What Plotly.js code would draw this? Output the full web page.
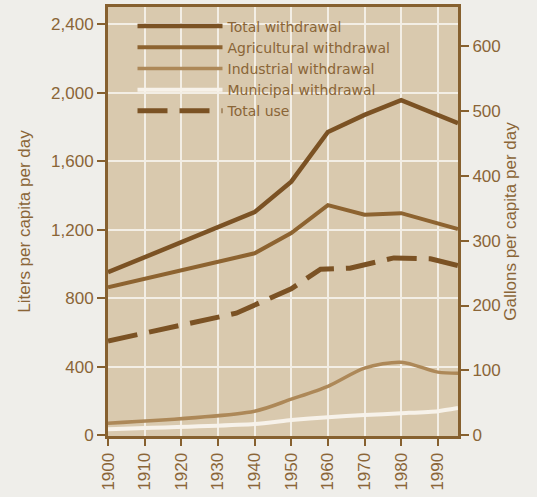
<!DOCTYPE html>
<html>
<head>
<meta charset="utf-8">
<script src="https://cdn.plot.ly/plotly-3.0.1.min.js"></script>
<style>html,body{margin:0;padding:0;background:#efeeea;}#chart{width:537px;height:497px;}</style>
</head>
<body>
<div id="chart"></div>
<script>
// Data (liters per capita per day)
const totalYears = [1900, 1940, 1950, 1960, 1970, 1980, 1995.5];
const totalWithdrawal = [951, 1302, 1480, 1770, 1870, 1956, 1821];

const agYears = [1900, 1940, 1950, 1960, 1970, 1980, 1995.5];
const agWithdrawal = [864, 1062, 1180, 1343, 1287, 1296, 1203];

const indYears = [1900, 1940, 1950, 1960, 1970, 1980, 1990, 1995.5];
const indWithdrawal = [70, 140, 210, 285, 391, 426, 368, 362];

const munYears = [1900, 1940, 1950, 1960, 1970, 1980, 1990, 1995.5];
const munWithdrawal = [35, 65, 88, 105, 117, 128, 140, 158];

const useYears = [1900, 1935, 1950, 1958, 1966, 1978, 1988, 1995.5];
const totalUse = [550, 712, 855, 969, 975, 1035, 1030, 990];

const seriesNames = ["Total withdrawal", "Agricultural withdrawal", "Industrial withdrawal", "Municipal withdrawal", "Total use"];
const xTicks = [1900, 1910, 1920, 1930, 1940, 1950, 1960, 1970, 1980, 1990];
const litersTicks = [0, 400, 800, 1200, 1600, 2000, 2400];
const gallonTicks = [0, 100, 200, 300, 400, 500, 600];
const LITERS_PER_GALLON = 3.785;

const txt = "#8a6537";
const axisCol = "#86602f";
const plotBg = "#d9c9ae";
const gridCol = "#f3eee5";
const font = "Liberation Sans, Arial, sans-serif";
const legendFont = "DejaVu Sans, Liberation Sans, sans-serif";

const traces = [
  {x: totalYears, y: totalWithdrawal, name: seriesNames[0], mode: "lines",
   line: {color: "#7b5224", width: 4.5}},
  {x: agYears, y: agWithdrawal, name: seriesNames[1], mode: "lines",
   line: {color: "#8d6330", width: 4}},
  {x: indYears, y: indWithdrawal, name: seriesNames[2], mode: "lines",
   line: {color: "#ad8858", width: 3.5, shape: "spline", smoothing: 0.8}},
  {x: munYears, y: munWithdrawal, name: seriesNames[3], mode: "lines",
   line: {color: "#f7f2ea", width: 4, shape: "spline", smoothing: 0.6}},
  {x: useYears, y: totalUse, name: seriesNames[4], mode: "lines",
   line: {color: "#7b5224", width: 5, dash: "30px,12px"}},
  {x: [1900], y: [0], yaxis: "y2", mode: "markers", marker: {opacity: 0}, showlegend: false, hoverinfo: "skip"}
];

const yMin = -5, yMax = 2500;
const layout = {
  width: 537, height: 497,
  margin: {l: 108, r: 79, t: 7, b: 61},
  paper_bgcolor: "#efeeea",
  plot_bgcolor: plotBg,
  font: {family: font, color: txt, size: 17},
  showlegend: true,
  legend: {
    x: 0.07, y: 0.992, xanchor: "left", yanchor: "top",
    bgcolor: "rgba(0,0,0,0)", borderwidth: 0,
    font: {family: legendFont, color: txt, size: 14},
    itemwidth: 85, tracegroupgap: 0,
    traceorder: "normal"
  },
  // backdrop behind the legend: hides the gridlines there, sits under the data lines
  shapes: [{
    type: "rect", xref: "paper", yref: "paper", layer: "between",
    x0: 0.05, x1: 0.88, y0: 0.737, y1: 1,
    fillcolor: plotBg, line: {width: 0}
  }],
  xaxis: {
    range: [1900, 1995.5],
    tickvals: xTicks, ticktext: xTicks.map(String),
    tickangle: -90,
    ticks: "outside", ticklen: 7, tickwidth: 2, tickcolor: axisCol,
    showline: true, linecolor: axisCol, linewidth: 3, mirror: true,
    showgrid: true, gridcolor: gridCol, gridwidth: 2,
    zeroline: false,
    tickfont: {family: font, color: txt, size: 17}
  },
  yaxis: {
    range: [yMin, yMax],
    tickvals: litersTicks, ticktext: litersTicks.map(v => v.toLocaleString("en-US")),
    ticks: "outside", ticklen: 8, tickwidth: 2, tickcolor: axisCol,
    showline: true, linecolor: axisCol, linewidth: 3,
    showgrid: true, gridcolor: gridCol, gridwidth: 2,
    zeroline: false,
    tickfont: {family: font, color: txt, size: 17},
    title: {text: "Liters per capita per day", font: {family: font, color: txt, size: 17}, standoff: 17}
  },
  yaxis2: {
    overlaying: "y", side: "right",
    range: [yMin / LITERS_PER_GALLON, yMax / LITERS_PER_GALLON],
    tickvals: gallonTicks, ticktext: gallonTicks.map(String),
    ticks: "outside", ticklen: 8, tickwidth: 2, tickcolor: axisCol,
    showline: true, linecolor: axisCol, linewidth: 3,
    showgrid: false, zeroline: false,
    tickfont: {family: font, color: txt, size: 17},
    title: {text: "Gallons per capita per day", font: {family: font, color: txt, size: 17}, standoff: 2}
  }
};

Plotly.newPlot("chart", traces, layout, {displayModeBar: false, staticPlot: true});
</script>
</body>
</html>
